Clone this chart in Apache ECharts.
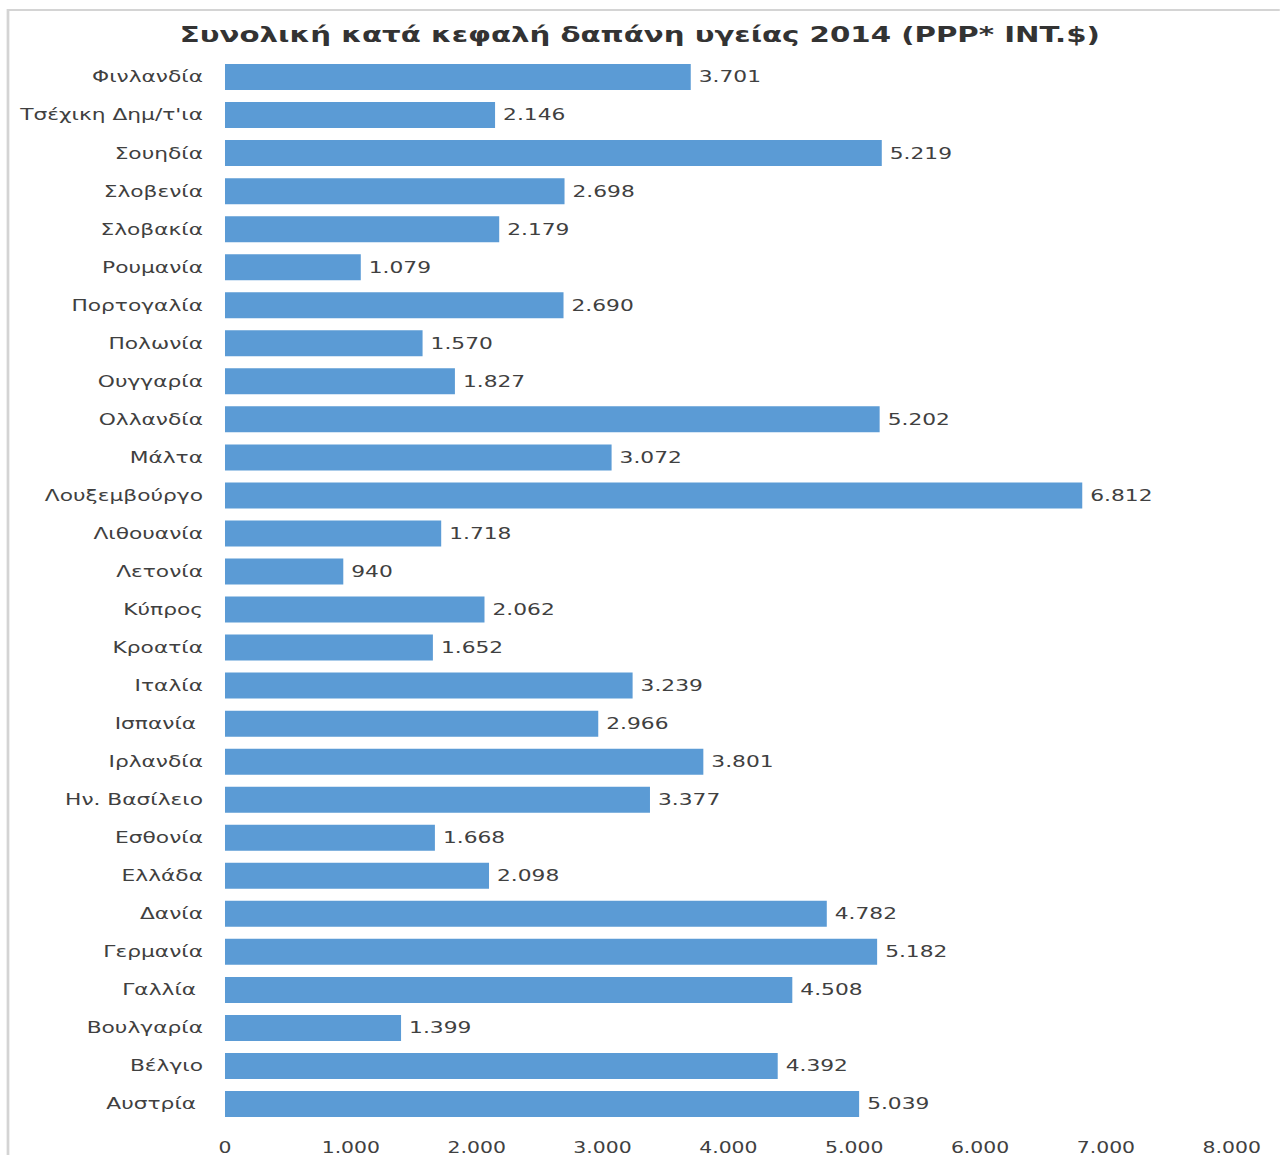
<!DOCTYPE html>
<html>
<head>
<meta charset="utf-8">
<script src="https://cdn.jsdelivr.net/npm/echarts@6/dist/echarts.min.js"></script>
<style>
  html, body { margin: 0; padding: 0; background: #ffffff; overflow: hidden; }
  /* The chart is laid out narrow and widened horizontally, giving the broad lettering */
  #chart { width: 941px; height: 1155px; transform: scaleX(1.36); transform-origin: 0 0; }
</style>
</head>
<body>
<div id="chart"></div>
<script>
// Countries, top to bottom
const countries = [
  'Φινλανδία', 'Τσέχικη Δημ/τ\'ια', 'Σουηδία', 'Σλοβενία', 'Σλοβακία', 'Ρουμανία',
  'Πορτογαλία', 'Πολωνία', 'Ουγγαρία', 'Ολλανδία', 'Μάλτα', 'Λουξεμβούργο',
  'Λιθουανία', 'Λετονία', 'Κύπρος', 'Κροατία', 'Ιταλία', 'Ισπανία ',
  'Ιρλανδία', 'Ην. Βασίλειο', 'Εσθονία', 'Ελλάδα', 'Δανία', 'Γερμανία',
  'Γαλλία ', 'Βουλγαρία', 'Βέλγιο', 'Αυστρία '
];

// Total health expenditure per capita, 2014 (PPP int. $)
const spending = [
  3701, 2146, 5219, 2698, 2179, 1079,
  2690, 1570, 1827, 5202, 3072, 6812,
  1718, 940, 2062, 1652, 3239, 2966,
  3801, 3377, 1668, 2098, 4782, 5182,
  4508, 1399, 4392, 5039
];

const axisTicks = [0, 1000, 2000, 3000, 4000, 5000, 6000, 7000, 8000];

const chartTitle = 'Συνολική κατά κεφαλή δαπάνη υγείας 2014 (PPP* INT.$)';

const FONT = '"DejaVu Sans", Verdana, sans-serif';
const SX = 1.36; // horizontal widening applied by CSS

function fmt(v) {
  return String(Math.round(v)).replace(/\B(?=(\d{3})+(?!\d))/g, '.');
}

const chart = echarts.init(document.getElementById('chart'), null, { renderer: 'svg' });
chart.setOption({
  animation: false,
  backgroundColor: '#ffffff',
  title: {
    text: chartTitle,
    left: 'center',
    top: 18,
    textStyle: { fontFamily: FONT, fontSize: 21.5, fontWeight: 'bold', color: '#333333' }
  },
  graphic: [{
    type: 'rect',
    shape: { x: 8 / SX, y: 10, width: 1300 / SX, height: 1170 },
    style: { fill: 'none', stroke: '#d4d4d4', lineWidth: 2 },
    silent: true
  }],
  grid: { left: 225 / SX, right: 48 / SX, top: 58, bottom: 24, containLabel: false },
  xAxis: {
    type: 'value',
    min: axisTicks[0],
    max: axisTicks[axisTicks.length - 1],
    interval: 1000,
    splitLine: { show: false },
    axisLine: { show: false },
    axisTick: { show: false },
    axisLabel: {
      margin: 17,
      fontFamily: FONT, fontSize: 15, color: '#404040',
      formatter: fmt
    }
  },
  yAxis: {
    type: 'category',
    data: countries,
    inverse: true,
    axisLine: { show: false },
    axisTick: { show: false },
    splitLine: { show: false },
    axisLabel: { margin: 22 / SX, fontFamily: FONT, fontSize: 16, color: '#404040' }
  },
  series: [{
    type: 'bar',
    data: spending,
    barWidth: 26,
    itemStyle: { color: '#5b9bd5' },
    label: {
      show: true,
      position: 'right',
      distance: 8 / SX,
      fontFamily: FONT, fontSize: 16, color: '#404040',
      formatter: p => fmt(p.value)
    }
  }]
});
</script>
</body>
</html>
